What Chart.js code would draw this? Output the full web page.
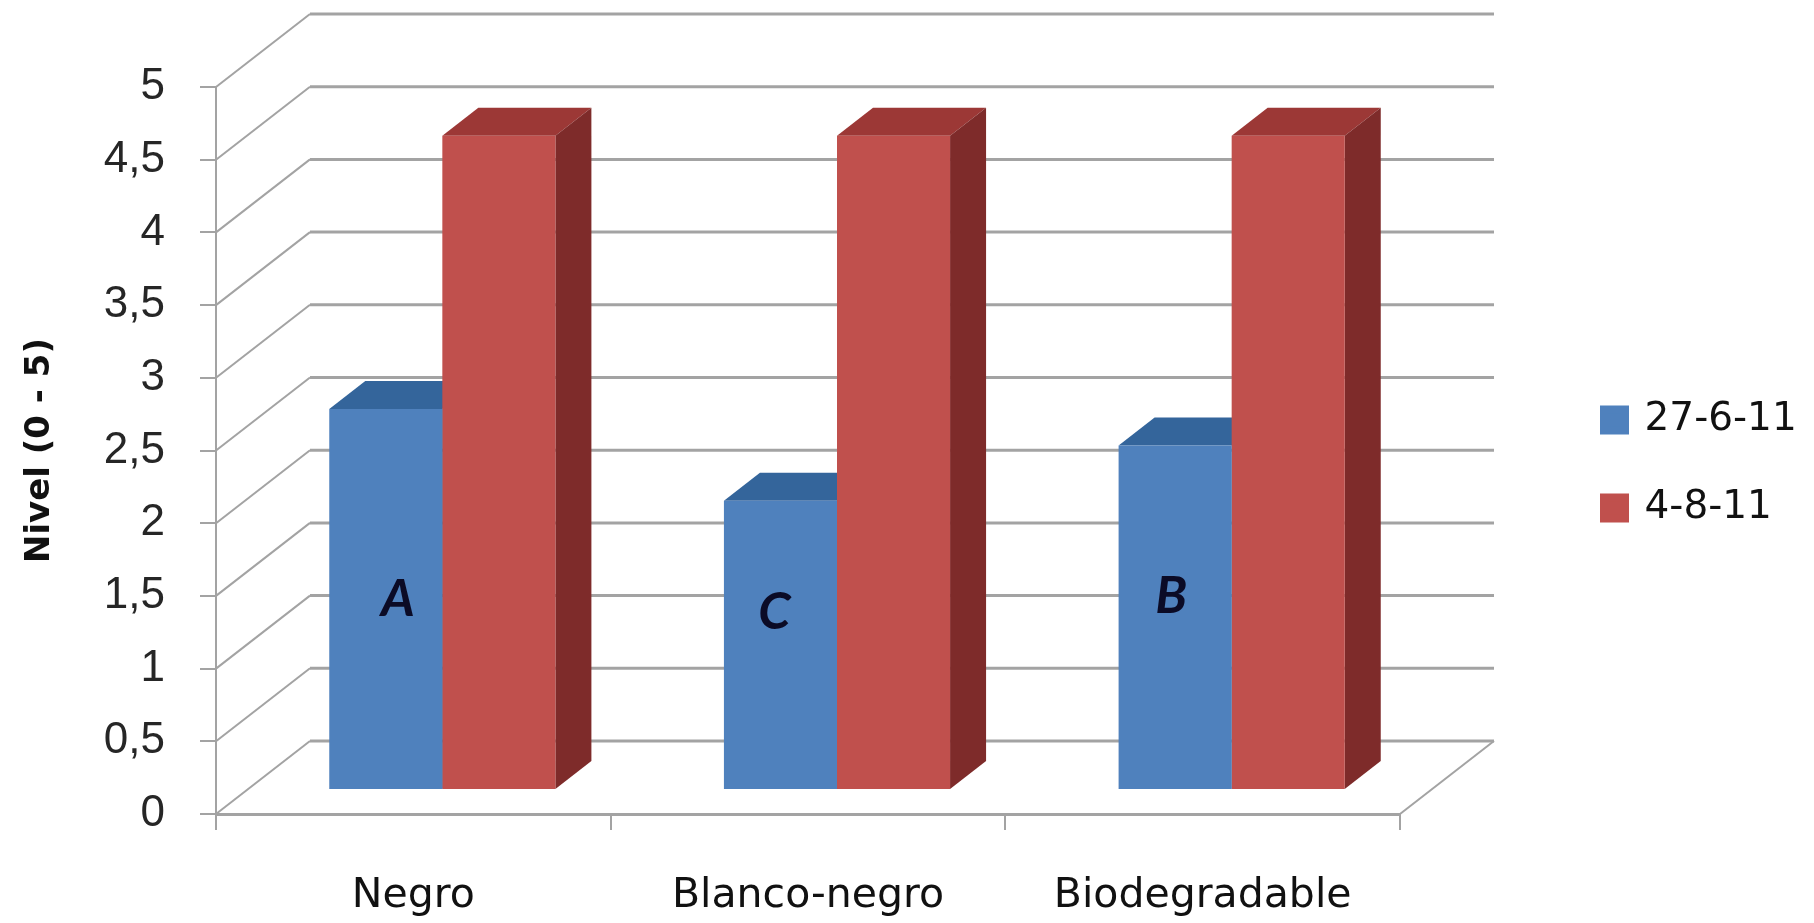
<!DOCTYPE html>
<html>
<head>
<meta charset="utf-8">
<title>Nivel (0 - 5)</title>
<script src="https://cdn.jsdelivr.net/npm/chart.js@4"></script>
<style>
  html, body { margin: 0; padding: 0; background: #fff; }
  canvas { display: block; }
</style>
</head>
<body>
<canvas id="myChart" width="1814" height="923"></canvas>
<script>
const categories = ["Negro", "Blanco-negro", "Biodegradable"];
const seriesNames = ["27-6-11", "4-8-11"];
const junioValues = [2.62, 1.99, 2.37];
const agostoValues = [4.5, 4.5, 4.5];
const groupLetters = ["A", "C", "B"];

const gridColor = "#a3a3a3";
const wallDepth = { x: 94, y: 73 };
const barShift = { x: 29, y: 24 };
const barDepth = { x: 36, y: 28 };
const topColors = ["#34659b", "#9c3836"];
const sideColors = ["#2c5580", "#7e2b2a"];
// where each letter sits on the y scale and how far from the bar centre
const letterLevels = [1.31, 1.22, 1.33];
const letterNudge = [12, -6, -4];

function fillPoly(ctx, color, pts) {
  ctx.fillStyle = color;
  ctx.beginPath();
  pts.forEach(function (p, i) {
    if (i === 0) ctx.moveTo(p[0], p[1]);
    else ctx.lineTo(p[0], p[1]);
  });
  ctx.closePath();
  ctx.fill();
}

const chart3d = {
  id: "chart3d",
  beforeLayout(chart) {
    // keep the plot area clear of the wide gap in front of the legend
    const legend = chart.legend;
    if (legend && !legend._wideFit) {
      const fit = legend.fit;
      legend.fit = function () {
        fit.call(this);
        this.width = 414;
      };
      legend._wideFit = true;
    }
  },
  afterLayout(chart) {
    chart.legend.left += 155;
    chart.legend.top -= 41;
    chart.legend.bottom -= 41;
  },
  beforeDatasetsDraw(chart) {
    const ctx = chart.ctx;
    const area = chart.chartArea;
    const y = chart.scales.y;

    // back wall and side wall lines
    ctx.save();
    ctx.strokeStyle = gridColor;
    y.ticks.forEach(function (tick) {
      const py = y.getPixelForValue(tick.value);
      ctx.lineWidth = 2;
      ctx.beginPath();
      ctx.moveTo(area.left, py);
      ctx.lineTo(area.left + wallDepth.x, py - wallDepth.y);
      ctx.stroke();
      ctx.lineWidth = 3;
      ctx.beginPath();
      ctx.moveTo(area.left + wallDepth.x, py - wallDepth.y);
      ctx.lineTo(area.right + wallDepth.x, py - wallDepth.y);
      ctx.stroke();
    });
    ctx.lineWidth = 2;
    ctx.beginPath();
    ctx.moveTo(area.right, area.bottom);
    ctx.lineTo(area.right + wallDepth.x, area.bottom - wallDepth.y);
    ctx.stroke();
    ctx.restore();

    // bars stand on the floor, off the front axis
    ctx.save();
    ctx.translate(barShift.x, -barShift.y);
    chart.data.datasets.forEach(function (ds, d) {
      chart.getDatasetMeta(d).data.forEach(function (bar) {
        const p = bar.getProps(["x", "y", "base", "width"], true);
        const l = p.x - p.width / 2;
        const r = p.x + p.width / 2;
        fillPoly(ctx, topColors[d], [
          [l, p.y],
          [l + barDepth.x, p.y - barDepth.y],
          [r + barDepth.x, p.y - barDepth.y],
          [r, p.y],
        ]);
        fillPoly(ctx, sideColors[d], [
          [r, p.y],
          [r + barDepth.x, p.y - barDepth.y],
          [r + barDepth.x, p.base - barDepth.y],
          [r, p.base],
        ]);
      });
    });
  },
  afterDatasetsDraw(chart) {
    const ctx = chart.ctx;
    const y = chart.scales.y;
    ctx.fillStyle = "#0b0b26";
    ctx.font = "italic bold 52px Lato";
    ctx.textAlign = "center";
    ctx.textBaseline = "middle";
    chart.getDatasetMeta(0).data.forEach(function (bar, i) {
      ctx.fillText(
        groupLetters[i],
        bar.x + letterNudge[i],
        y.getPixelForValue(letterLevels[i])
      );
    });
    ctx.restore();
  },
};

const ctx = document.getElementById("myChart").getContext("2d");
new Chart(ctx, {
  type: "bar",
  data: {
    labels: categories,
    datasets: [
      {
        label: seriesNames[0],
        data: junioValues,
        backgroundColor: "#4f81bd",
        clip: false,
      },
      {
        label: seriesNames[1],
        data: agostoValues,
        backgroundColor: "#c0504d",
        clip: false,
      },
    ],
  },
  options: {
    responsive: false,
    devicePixelRatio: 1,
    animation: false,
    layout: { padding: { top: 87 } },
    datasets: {
      bar: { categoryPercentage: 0.573, barPercentage: 1, borderWidth: 0 },
    },
    scales: {
      x: {
        afterFit(scale) {
          scale.height = 109;
        },
        border: { color: gridColor, width: 3 },
        grid: {
          color: gridColor,
          lineWidth: 2,
          drawOnChartArea: false,
          tickLength: 16,
        },
        ticks: {
          padding: 42,
          maxRotation: 0,
          color: "#111",
          font: { family: "DejaVu Sans", size: 41 },
        },
      },
      y: {
        min: 0,
        max: 5,
        afterFit(scale) {
          scale.width = 216;
        },
        border: { color: gridColor, width: 2 },
        grid: {
          color: gridColor,
          lineWidth: 2,
          drawOnChartArea: false,
          tickLength: 16,
        },
        ticks: {
          stepSize: 0.5,
          autoSkip: false,
          padding: 35,
          color: "#262626",
          font: { family: "Liberation Sans", size: 44 },
          callback: function (value) {
            return String(value).replace(".", ",");
          },
        },
        title: {
          display: true,
          text: "Nivel (0 - 5)",
          color: "#111",
          padding: { top: 20, bottom: 0 },
          font: { family: "DejaVu Sans", size: 34, weight: "bold" },
        },
      },
    },
    plugins: {
      tooltip: { enabled: false },
      legend: {
        position: "right",
        labels: {
          boxWidth: 21,
          boxHeight: 21,
          padding: 49,
          color: "#111",
          font: { family: "DejaVu Sans", size: 39 },
          generateLabels(chart) {
            // thick border of the same colour brings the swatch nearer its text
            const items = Chart.defaults.plugins.legend.labels.generateLabels(chart);
            items.forEach(function (item) {
              item.strokeStyle = item.fillStyle;
              item.lineWidth = 8;
            });
            return items;
          },
        },
      },
    },
  },
  plugins: [chart3d],
});
</script>
</body>
</html>
